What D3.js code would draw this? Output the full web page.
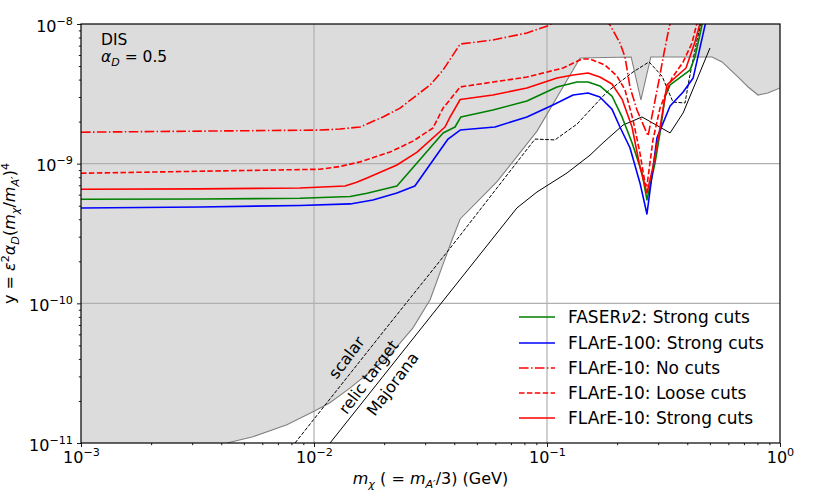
<!DOCTYPE html>
<html>
<head>
<meta charset="utf-8">
<script src="https://cdn.jsdelivr.net/npm/d3@7"></script>
<style>
body { margin: 0; background: #fff; }
text { font-family: "DejaVu Sans", sans-serif; fill: #000; }
</style>
</head>
<body>
<div id="vis"></div>
<script>
// plot box
const margin = { top: 24, right: 42, bottom: 50, left: 81 };
const width = 699;
const height = 419;

// ---- data (x = m_chi in GeV, y) ----
// upper edge of the excluded (grey) region
const boundX = [4.23e-3, 5.47e-3, 7.65e-3, 1.01e-2, 1.17e-2, 1.43e-2, 2.06e-2, 2.66e-2, 3.15e-2, 3.58e-2, 3.91e-2, 4.24e-2, 6.09e-2, 9.06e-2, 0.1387, 0.2297, 0.253, 0.279, 0.511, 0.564, 0.673, 0.730, 0.805, 0.887, 1.0]
const boundY = [1e-11, 1.11e-11, 1.35e-11, 1.70e-11, 1.94e-11, 2.48e-11, 4.06e-11, 6.67e-11, 1.06e-10, 1.91e-10, 2.84e-10, 4.02e-10, 7.40e-10, 1.71e-9, 5.71e-9, 5.81e-9, 2.86e-9, 5.81e-9, 5.81e-9, 5.35e-9, 4.04e-9, 3.54e-9, 3.10e-9, 3.21e-9, 3.48e-9]

// FASERv2 strong cuts
const faserX = [1e-3, 3.24e-3, 8.71e-3, 1.43e-2, 1.689e-2, 2.27e-2, 3.58e-2, 4.03e-2, 4.27e-2, 5.86e-2, 8.20e-2, 0.1104, 0.1345, 0.150, 0.1686, 0.190, 0.2099, 0.2317, 0.2557, 0.2685, 0.2907, 0.3055, 0.3209, 0.3375, 0.4108, 0.4316, 0.4625, 0.4766]
const faserY = [5.56e-10, 5.59e-10, 5.65e-10, 5.82e-10, 6.14e-10, 6.92e-10, 1.66e-9, 1.83e-9, 2.16e-9, 2.42e-9, 2.81e-9, 3.54e-9, 3.84e-9, 3.84e-9, 3.60e-9, 3.05e-9, 2.16e-9, 1.41e-9, 8.58e-10, 5.50e-10, 1.01e-9, 1.66e-9, 3.00e-9, 3.66e-9, 4.68e-9, 5.80e-9, 9.83e-9, 1.22e-8]

// FLArE-100 strong cuts
const flare100X = [1e-3, 3.24e-3, 8.71e-3, 1.43e-2, 1.79e-2, 2.27e-2, 2.71e-2, 3.76e-2, 4.24e-2, 5.98e-2, 8.20e-2, 0.106, 0.1295, 0.150, 0.1686, 0.190, 0.2056, 0.227, 0.2506, 0.2685, 0.2965, 0.3375, 0.384, 0.424, 0.491]
const flare100Y = [4.82e-10, 4.90e-10, 5.02e-10, 5.15e-10, 5.50e-10, 6.17e-10, 6.92e-10, 1.50e-9, 1.74e-9, 1.83e-9, 2.16e-9, 2.63e-9, 3.10e-9, 3.21e-9, 3.00e-9, 2.46e-9, 1.83e-9, 1.30e-9, 7.28e-10, 4.36e-10, 1.53e-9, 2.59e-9, 3.26e-9, 4.11e-9, 1.22e-8]

// FLArE-10 no cuts
const noCutX = [1e-3, 1.061e-2, 1.293e-2, 1.576e-2, 1.978e-2, 2.34e-2, 2.66e-2, 3.15e-2, 3.58e-2, 4.24e-2, 5.86e-2, 8.20e-2, 0.1030, 0.1387, 0.1864, 0.2056, 0.2162, 0.227, 0.2433, 0.2714, 0.2878, 0.3025, 0.3178, 0.3340, 0.3405]
const noCutY = [1.68e-9, 1.74e-9, 1.77e-9, 1.83e-9, 2.16e-9, 2.50e-9, 2.95e-9, 3.66e-9, 4.68e-9, 7.19e-9, 7.68e-9, 8.62e-9, 9.83e-9, 1.75e-8, 9.83e-9, 7.31e-9, 5.80e-9, 3.54e-9, 2.42e-9, 1.58e-9, 2.59e-9, 3.97e-9, 6.20e-9, 9.36e-9, 1.07e-8]

// FLArE-10 loose cuts
const looseX = [1e-3, 1.061e-2, 1.293e-2, 1.576e-2, 2.12e-2, 2.66e-2, 3.24e-2, 3.58e-2, 4.24e-2, 5.86e-2, 8.20e-2, 0.1172, 0.1413, 0.1529, 0.1773, 0.1997, 0.2162, 0.2339, 0.2506, 0.2634, 0.2685, 0.2850, 0.3055, 0.3440, 0.3840, 0.4190, 0.4490]
const looseY = [8.54e-10, 9.12e-10, 9.55e-10, 1.03e-9, 1.21e-9, 1.45e-9, 1.80e-9, 2.50e-9, 3.54e-9, 3.84e-9, 4.17e-9, 4.84e-9, 5.62e-9, 5.62e-9, 5.09e-9, 4.24e-9, 3.37e-9, 2.06e-9, 1.19e-9, 7.27e-10, 6.92e-10, 1.48e-9, 2.50e-9, 4.11e-9, 5.35e-9, 7.31e-9, 1.16e-8]

// FLArE-10 strong cuts
const strongX = [1e-3, 3.24e-3, 8.71e-3, 1.358e-2, 1.515e-2, 1.689e-2, 2.27e-2, 2.77e-2, 3.65e-2, 3.84e-2, 4.24e-2, 5.86e-2, 8.20e-2, 0.1104, 0.1295, 0.150, 0.1686, 0.190, 0.2099, 0.2317, 0.2506, 0.2685, 0.2850, 0.3055, 0.3273, 0.395, 0.4316, 0.468]
const strongY = [6.56e-10, 6.60e-10, 6.70e-10, 6.92e-10, 7.33e-10, 7.90e-10, 9.79e-10, 1.21e-9, 1.83e-9, 2.16e-9, 2.88e-9, 3.10e-9, 3.48e-9, 4.11e-9, 4.31e-9, 4.46e-9, 4.17e-9, 3.72e-9, 2.90e-9, 1.83e-9, 9.47e-10, 6.17e-10, 9.47e-10, 1.80e-9, 3.66e-9, 4.84e-9, 7.43e-9, 1.22e-8]

// relic target: scalar (dashed) and Majorana (solid)
const scalarX = [8.29e-3, 2.06e-2, 3.91e-2, 8.88e-2, 0.1082, 0.1345, 0.1809, 0.2339, 0.2741, 0.3116, 0.3474, 0.3912, 0.4069, 0.4403, 0.4625]
const scalarY = [1e-11, 6.78e-11, 2.58e-10, 1.50e-9, 1.48e-9, 1.92e-9, 3.26e-9, 4.53e-9, 5.35e-9, 4.24e-9, 2.76e-9, 2.72e-9, 3.97e-9, 7.68e-9, 1.068e-8]
const majoranaX = [1.172e-2, 7.43e-2, 9.06e-2, 0.1219, 0.1529, 0.1739, 0.2120, 0.2557, 0.3375, 0.384, 0.5005]
const majoranaY = [1e-11, 4.82e-10, 6.27e-10, 8.58e-10, 1.15e-9, 1.41e-9, 1.89e-9, 2.16e-9, 1.66e-9, 2.31e-9, 6.73e-9]

// ticks
const xMajor = [1e-3, 1e-2, 1e-1, 1]
const yMajor = [1e-11, 1e-10, 1e-9, 1e-8]
const xGrid = [1e-2, 1e-1]
const yGrid = [1e-10, 1e-9]

const legendItems = [
    { x: faserX, y: faserY, color: 'green', dash: null, label: [{ t: 'FASER' }, { t: 'ν', i: true }, { t: '2: Strong cuts' }] },
    { x: flare100X, y: flare100Y, color: 'blue', dash: null, label: [{ t: 'FLArE-100: Strong cuts' }] },
    { x: noCutX, y: noCutY, color: 'red', dash: '9.6,2.4,1.5,2.4', label: [{ t: 'FLArE-10: No cuts' }] },
    { x: looseX, y: looseY, color: 'red', dash: '5.5,2.4', label: [{ t: 'FLArE-10: Loose cuts' }] },
    { x: strongX, y: strongY, color: 'red', dash: null, label: [{ t: 'FLArE-10: Strong cuts' }] }
]

const zip = (xs, ys) => xs.map((x, i) => [x, ys[i]])

const svg = d3.select('#vis')
    .append('svg')
    .attr('width', width + margin.left + margin.right)
    .attr('height', height + margin.top + margin.bottom)
    .append('g')
    .attr('transform', `translate(${margin.left},${margin.top})`);

const xScale = d3.scaleLog().domain([1e-3, 1]).range([0, width]);
const yScale = d3.scaleLog().domain([1e-11, 1e-8]).range([height, 0]);

const line = d3.line().x(d => xScale(d[0])).y(d => yScale(d[1]));

svg.append('clipPath').attr('id', 'clip')
    .append('rect').attr('width', width).attr('height', height);

const plot = svg.append('g').attr('clip-path', 'url(#clip)');

// grey excluded region
const region = [[1e-3, 1e-11]].concat(zip(boundX, boundY), [[1, 1e-8], [1e-3, 1e-8]]);
plot.append('path')
    .attr('d', line(region) + 'Z')
    .attr('fill', '#dcdcdc')
    .attr('stroke', 'none');

// grid
plot.selectAll('.gx').data(xGrid).join('line')
    .attr('x1', d => xScale(d)).attr('x2', d => xScale(d))
    .attr('y1', 0).attr('y2', height)
    .attr('stroke', '#b0b0b0').attr('stroke-width', 1.2);
plot.selectAll('.gy').data(yGrid).join('line')
    .attr('y1', d => yScale(d)).attr('y2', d => yScale(d))
    .attr('x1', 0).attr('x2', width)
    .attr('stroke', '#b0b0b0').attr('stroke-width', 1.2);

plot.append('path')
    .attr('d', line(zip(boundX, boundY)))
    .attr('fill', 'none').attr('stroke', '#808080').attr('stroke-width', 1.1);

// relic lines
plot.append('path')
    .attr('d', line(zip(scalarX, scalarY)))
    .attr('fill', 'none').attr('stroke', 'black').attr('stroke-width', 1)
    .attr('stroke-dasharray', '3.7,1.6');
plot.append('path')
    .attr('d', line(zip(majoranaX, majoranaY)))
    .attr('fill', 'none').attr('stroke', 'black').attr('stroke-width', 1);

// sensitivity curves
legendItems.forEach(s => {
    plot.append('path')
        .attr('d', line(zip(s.x, s.y)))
        .attr('fill', 'none')
        .attr('stroke', s.color)
        .attr('stroke-width', 1.6)
        .attr('stroke-dasharray', s.dash)
        .attr('stroke-linejoin', 'round');
})

// helper for text with sub/superscripts
function mathText(sel, parts, small, up) {
    let shift = 0
    parts.forEach(p => {
        const target = p.s === 'sup' ? -(up || 7) : p.s === 'sub' ? 4 : 0
        sel.append('tspan')
            .attr('dy', target - shift)
            .style('font-size', p.s ? small : null)
            .style('font-style', p.i ? 'italic' : null)
            .text(p.t)
        shift = target
    })
}

function expLabel(sel, v) {
    const e = Math.round(Math.log10(v))
    sel.text(null)
    mathText(sel, [{ t: '10' }, { t: e < 0 ? '\u2212' + (-e) : String(e), s: 'sup' }], '11.2px')
}

function minorTicks(lo, hi) {
    const out = []
    for (let k = lo; k < hi; k++) for (let m = 2; m <= 9; m++) out.push(m * Math.pow(10, k))
    return out
}

// x axis
const gx = svg.append('g').attr('transform', `translate(0,${height})`)
    .call(d3.axisBottom(xScale).tickValues(xMajor).tickSize(4).tickFormat(() => ''));
gx.append('g')
    .call(d3.axisBottom(xScale).tickValues(minorTicks(-3, 0)).tickSize(2.2).tickFormat(() => ''));
gx.selectAll('.domain').remove();
gx.selectAll('line').attr('stroke', 'black').attr('stroke-width', 0.9);
gx.selectAll(':scope > .tick text')
    .attr('y', 20).attr('dy', null)
    .style('font-size', '16px')
    .each(function (d) { expLabel(d3.select(this), d) });

// y axis
const gy = svg.append('g')
    .call(d3.axisLeft(yScale).tickValues(yMajor).tickSize(4).tickFormat(() => ''));
gy.append('g')
    .call(d3.axisLeft(yScale).tickValues(minorTicks(-11, -8)).tickSize(2.2).tickFormat(() => ''));
gy.selectAll('.domain').remove();
gy.selectAll('line').attr('stroke', 'black').attr('stroke-width', 0.9);
gy.selectAll(':scope > .tick text')
    .attr('x', -8).attr('dy', null).attr('y', 7)
    .style('font-size', '16px')
    .each(function (d) { expLabel(d3.select(this), d) });

// frame
svg.append('rect')
    .attr('width', width).attr('height', height)
    .attr('fill', 'none').attr('stroke', 'black').attr('stroke-width', 1.2);

// axis labels
const xl = svg.append('text')
    .attr('x', width / 2).attr('y', height + 41)
    .attr('text-anchor', 'middle').style('font-size', '16px');
mathText(xl, [{ t: 'm', i: true }, { t: 'χ', s: 'sub', i: true }, { t: ' ( = ' }, { t: 'm', i: true },
    { t: 'A′', s: 'sub', i: true }, { t: '/3) (GeV)' }], '11.2px');

const yl = svg.append('text')
    .attr('transform', `translate(${-margin.left + 15},${height / 2}) rotate(-90)`)
    .attr('text-anchor', 'middle').style('font-size', '16px');
mathText(yl, [{ t: 'y = ' }, { t: 'ε', i: true }, { t: '2', s: 'sup' }, { t: 'α', i: true }, { t: 'D', s: 'sub', i: true },
    { t: '(' }, { t: 'm', i: true }, { t: 'χ', s: 'sub', i: true }, { t: '/' }, { t: 'm', i: true },
    { t: 'A′', s: 'sub', i: true }, { t: ')' }, { t: '4', s: 'sup' }], '11.2px', 6);

// annotation
svg.append('text').attr('x', 20).attr('y', 21).style('font-size', '15.5px').text('DIS');
const ad = svg.append('text').attr('x', 20).attr('y', 38).style('font-size', '15.5px');
mathText(ad, [{ t: 'α', i: true }, { t: 'D', s: 'sub', i: true }, { t: ' = 0.5' }], '11px');

// relic target labels
const relicLabels = [
    { text: 'scalar', cx: 265.5, cy: 333.5 },
    { text: 'relic target', cx: 287.5, cy: 353 },
    { text: 'Majorana', cx: 311.5, cy: 360 }
]
svg.selectAll('.relic').data(relicLabels).join('text')
    .attr('transform', d => `translate(${d.cx},${d.cy}) rotate(-53)`)
    .attr('text-anchor', 'middle').attr('dy', '0.35em')
    .style('font-size', '16px')
    .text(d => d.text);

// legend
const legendRows = [317, 343, 368, 393, 418]
const legend = svg.append('g')
legendItems.forEach((s, i) => {
    const yy = legendRows[i] - margin.top
    legend.append('line')
        .attr('x1', 438).attr('x2', 474).attr('y1', yy).attr('y2', yy)
        .attr('stroke', s.color).attr('stroke-width', 1.6)
        .attr('stroke-dasharray', s.dash);
    const t = legend.append('text').attr('x', 487).attr('y', yy + 6).style('font-size', '17px')
    mathText(t, s.label, '12px')
})
</script>
</body>
</html>
